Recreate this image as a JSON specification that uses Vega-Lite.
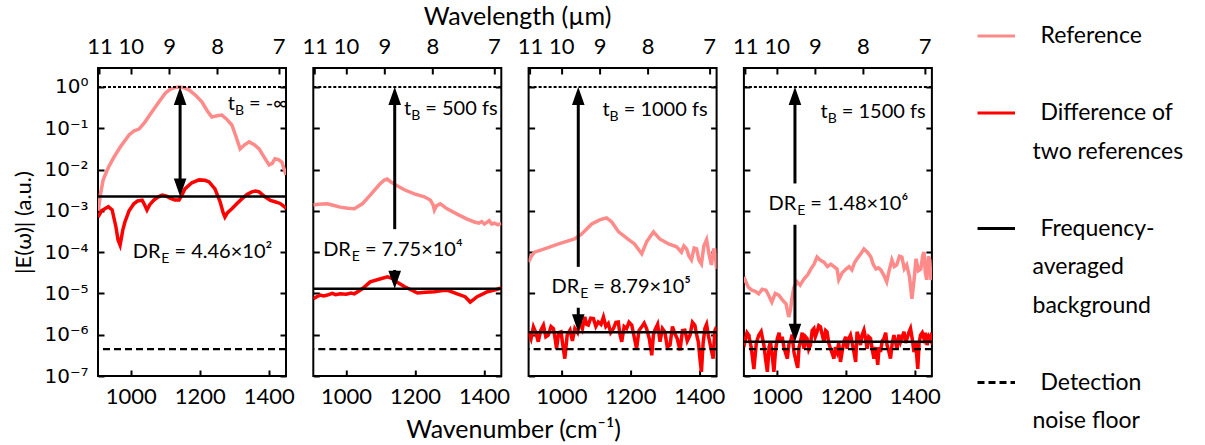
{
"$schema": "https://vega.github.io/schema/vega-lite/v6.json",
"padding": {"left": 11, "top": 5, "right": 5, "bottom": 5},
"datasets": {
"p1": [
{"s":"ref","wn":906,"E":1.0e-3},{"s":"ref","wn":912,"E":2.51e-3},{"s":"ref","wn":920,"E":5.62e-3},{"s":"ref","wn":935,"E":1.12e-2},{"s":"ref","wn":950,"E":1.91e-2},{"s":"ref","wn":970,"E":3.55e-2},{"s":"ref","wn":995,"E":6.92e-2},{"s":"ref","wn":1010,"E":8.71e-2},{"s":"ref","wn":1024,"E":9.55e-2},{"s":"ref","wn":1041,"E":0.141},{"s":"ref","wn":1060,"E":0.240},{"s":"ref","wn":1082,"E":0.437},{"s":"ref","wn":1100,"E":0.708},{"s":"ref","wn":1115,"E":0.891},{"s":"ref","wn":1130,"E":0.977},{"s":"ref","wn":1140,"E":1.0},{"s":"ref","wn":1155,"E":0.955},{"s":"ref","wn":1169,"E":0.851},{"s":"ref","wn":1190,"E":0.603},{"s":"ref","wn":1206,"E":0.437},{"s":"ref","wn":1222,"E":0.263},{"s":"ref","wn":1235,"E":0.186},{"s":"ref","wn":1250,"E":0.200},{"s":"ref","wn":1264,"E":0.209},{"s":"ref","wn":1278,"E":0.166},{"s":"ref","wn":1293,"E":0.120},{"s":"ref","wn":1305,"E":0.0631},{"s":"ref","wn":1317,"E":0.0316},{"s":"ref","wn":1330,"E":0.0398},{"s":"ref","wn":1343,"E":0.0468},{"s":"ref","wn":1358,"E":0.0398},{"s":"ref","wn":1372,"E":0.0316},{"s":"ref","wn":1388,"E":0.0191},{"s":"ref","wn":1401,"E":0.0129},{"s":"ref","wn":1410,"E":0.0141},{"s":"ref","wn":1418,"E":0.0182},{"s":"ref","wn":1428,"E":0.0174},{"s":"ref","wn":1438,"E":0.0151},{"s":"ref","wn":1450,"E":0.00741},
{"s":"diff","wn":905,"E":7.08e-4},{"s":"diff","wn":915,"E":1.0e-3},{"s":"diff","wn":925,"E":1.12e-3},{"s":"diff","wn":935,"E":1.26e-3},{"s":"diff","wn":946,"E":1.05e-3},{"s":"diff","wn":957,"E":4.07e-4},{"s":"diff","wn":963,"E":2.0e-4},{"s":"diff","wn":969,"E":1.48e-4},{"s":"diff","wn":973,"E":2.24e-4},{"s":"diff","wn":977,"E":3.47e-4},{"s":"diff","wn":983,"E":5.37e-4},{"s":"diff","wn":995,"E":1.0e-3},{"s":"diff","wn":1009,"E":1.48e-3},{"s":"diff","wn":1020,"E":1.74e-3},{"s":"diff","wn":1033,"E":1.82e-3},{"s":"diff","wn":1040,"E":1.41e-3},{"s":"diff","wn":1047,"E":1.05e-3},{"s":"diff","wn":1055,"E":1.41e-3},{"s":"diff","wn":1067,"E":1.82e-3},{"s":"diff","wn":1080,"E":2.19e-3},{"s":"diff","wn":1091,"E":2.40e-3},{"s":"diff","wn":1102,"E":2.29e-3},{"s":"diff","wn":1114,"E":2.04e-3},{"s":"diff","wn":1128,"E":1.82e-3},{"s":"diff","wn":1140,"E":1.82e-3},{"s":"diff","wn":1148,"E":2.40e-3},{"s":"diff","wn":1157,"E":3.39e-3},{"s":"diff","wn":1177,"E":4.79e-3},{"s":"diff","wn":1198,"E":5.62e-3},{"s":"diff","wn":1215,"E":5.50e-3},{"s":"diff","wn":1227,"E":5.01e-3},{"s":"diff","wn":1244,"E":3.39e-3},{"s":"diff","wn":1259,"E":1.66e-3},{"s":"diff","wn":1268,"E":8.91e-4},{"s":"diff","wn":1273,"E":7.08e-4},{"s":"diff","wn":1280,"E":8.91e-4},{"s":"diff","wn":1293,"E":1.12e-3},{"s":"diff","wn":1308,"E":1.51e-3},{"s":"diff","wn":1322,"E":1.95e-3},{"s":"diff","wn":1337,"E":2.51e-3},{"s":"diff","wn":1351,"E":2.88e-3},{"s":"diff","wn":1362,"E":3.02e-3},{"s":"diff","wn":1372,"E":2.88e-3},{"s":"diff","wn":1389,"E":2.19e-3},{"s":"diff","wn":1405,"E":1.78e-3},{"s":"diff","wn":1418,"E":1.66e-3},{"s":"diff","wn":1433,"E":1.51e-3},{"s":"diff","wn":1447,"E":1.23e-3},{"s":"diff","wn":1450,"E":1.12e-3}
],
"p2": [
{"s":"ref","wn":905,"E":1.38e-3},{"s":"ref","wn":920,"E":1.45e-3},{"s":"ref","wn":946,"E":1.48e-3},{"s":"ref","wn":965,"E":1.35e-3},{"s":"ref","wn":983,"E":1.23e-3},{"s":"ref","wn":1005,"E":1.15e-3},{"s":"ref","wn":1024,"E":1.12e-3},{"s":"ref","wn":1047,"E":1.48e-3},{"s":"ref","wn":1070,"E":2.40e-3},{"s":"ref","wn":1096,"E":4.27e-3},{"s":"ref","wn":1110,"E":5.50e-3},{"s":"ref","wn":1119,"E":5.89e-3},{"s":"ref","wn":1130,"E":5.01e-3},{"s":"ref","wn":1143,"E":4.27e-3},{"s":"ref","wn":1169,"E":3.24e-3},{"s":"ref","wn":1198,"E":2.57e-3},{"s":"ref","wn":1227,"E":2.19e-3},{"s":"ref","wn":1244,"E":1.82e-3},{"s":"ref","wn":1252,"E":1.41e-3},{"s":"ref","wn":1256,"E":1.05e-3},{"s":"ref","wn":1262,"E":1.32e-3},{"s":"ref","wn":1273,"E":1.48e-3},{"s":"ref","wn":1293,"E":1.12e-3},{"s":"ref","wn":1322,"E":8.32e-4},{"s":"ref","wn":1351,"E":6.31e-4},{"s":"ref","wn":1372,"E":5.37e-4},{"s":"ref","wn":1385,"E":5.01e-4},{"s":"ref","wn":1393,"E":5.50e-4},{"s":"ref","wn":1401,"E":4.79e-4},{"s":"ref","wn":1408,"E":5.25e-4},{"s":"ref","wn":1415,"E":5.75e-4},{"s":"ref","wn":1422,"E":4.79e-4},{"s":"ref","wn":1430,"E":5.01e-4},{"s":"ref","wn":1440,"E":4.57e-4},{"s":"ref","wn":1450,"E":5.01e-4},
{"s":"diff","wn":905,"E":7.41e-6},{"s":"diff","wn":915,"E":8.32e-6},{"s":"diff","wn":925,"E":9.12e-6},{"s":"diff","wn":935,"E":8.71e-6},{"s":"diff","wn":946,"E":9.12e-6},{"s":"diff","wn":960,"E":1.0e-5},{"s":"diff","wn":970,"E":9.33e-6},{"s":"diff","wn":983,"E":9.77e-6},{"s":"diff","wn":1000,"E":9.55e-6},{"s":"diff","wn":1015,"E":1.02e-5},{"s":"diff","wn":1024,"E":9.77e-6},{"s":"diff","wn":1047,"E":1.29e-5},{"s":"diff","wn":1070,"E":1.91e-5},{"s":"diff","wn":1098,"E":2.24e-5},{"s":"diff","wn":1120,"E":2.51e-5},{"s":"diff","wn":1135,"E":2.29e-5},{"s":"diff","wn":1146,"E":1.91e-5},{"s":"diff","wn":1170,"E":1.45e-5},{"s":"diff","wn":1207,"E":1.02e-5},{"s":"diff","wn":1230,"E":1.07e-5},{"s":"diff","wn":1256,"E":1.10e-5},{"s":"diff","wn":1280,"E":1.17e-5},{"s":"diff","wn":1293,"E":1.20e-5},{"s":"diff","wn":1322,"E":9.77e-6},{"s":"diff","wn":1345,"E":8.32e-6},{"s":"diff","wn":1360,"E":6.17e-6},{"s":"diff","wn":1380,"E":8.32e-6},{"s":"diff","wn":1410,"E":1.10e-5},{"s":"diff","wn":1430,"E":1.20e-5},{"s":"diff","wn":1450,"E":1.35e-5}
],
"p3": [
{"s":"ref","wn":905,"E":5.75e-5},{"s":"ref","wn":913,"E":7.94e-5},{"s":"ref","wn":922,"E":1.0e-4},{"s":"ref","wn":951,"E":1.20e-4},{"s":"ref","wn":992,"E":1.58e-4},{"s":"ref","wn":1038,"E":2.09e-4},{"s":"ref","wn":1059,"E":2.75e-4},{"s":"ref","wn":1088,"E":4.79e-4},{"s":"ref","wn":1111,"E":6.03e-4},{"s":"ref","wn":1131,"E":6.76e-4},{"s":"ref","wn":1146,"E":5.37e-4},{"s":"ref","wn":1166,"E":3.09e-4},{"s":"ref","wn":1195,"E":2.0e-4},{"s":"ref","wn":1212,"E":1.58e-4},{"s":"ref","wn":1233,"E":9.12e-5},{"s":"ref","wn":1247,"E":1.78e-4},{"s":"ref","wn":1267,"E":3.09e-4},{"s":"ref","wn":1285,"E":2.09e-4},{"s":"ref","wn":1311,"E":1.58e-4},{"s":"ref","wn":1334,"E":1.35e-4},{"s":"ref","wn":1348,"E":1.0e-4},{"s":"ref","wn":1355,"E":1.41e-4},{"s":"ref","wn":1363,"E":1.20e-4},{"s":"ref","wn":1370,"E":7.94e-5},{"s":"ref","wn":1377,"E":6.46e-5},{"s":"ref","wn":1385,"E":1.26e-4},{"s":"ref","wn":1392,"E":1.20e-4},{"s":"ref","wn":1399,"E":6.31e-5},{"s":"ref","wn":1406,"E":5.13e-5},{"s":"ref","wn":1413,"E":1.41e-4},{"s":"ref","wn":1421,"E":2.0e-4},{"s":"ref","wn":1428,"E":8.91e-5},{"s":"ref","wn":1435,"E":4.90e-5},{"s":"ref","wn":1441,"E":1.12e-4},{"s":"ref","wn":1445,"E":1.12e-4},{"s":"ref","wn":1450,"E":3.89e-5},
{"s":"diff","wn":904,"E":1.17e-6},{"s":"diff","wn":912,"E":7.94e-7},{"s":"diff","wn":919,"E":1.55e-6},{"s":"diff","wn":926,"E":1.12e-6},{"s":"diff","wn":933,"E":6.76e-7},{"s":"diff","wn":940,"E":1.26e-6},{"s":"diff","wn":948,"E":1.70e-6},{"s":"diff","wn":955,"E":8.91e-7},{"s":"diff","wn":962,"E":9.77e-7},{"s":"diff","wn":970,"E":1.58e-6},{"s":"diff","wn":977,"E":1.41e-6},{"s":"diff","wn":982,"E":7.94e-7},{"s":"diff","wn":986,"E":4.57e-7},{"s":"diff","wn":992,"E":1.12e-6},{"s":"diff","wn":999,"E":1.17e-6},{"s":"diff","wn":1005,"E":5.01e-7},{"s":"diff","wn":1010,"E":2.63e-7},{"s":"diff","wn":1017,"E":1.0e-6},{"s":"diff","wn":1025,"E":1.29e-6},{"s":"diff","wn":1032,"E":7.08e-7},{"s":"diff","wn":1039,"E":1.41e-6},{"s":"diff","wn":1047,"E":1.12e-6},{"s":"diff","wn":1054,"E":2.04e-6},{"s":"diff","wn":1061,"E":1.41e-6},{"s":"diff","wn":1068,"E":2.69e-6},{"s":"diff","wn":1073,"E":1.78e-6},{"s":"diff","wn":1078,"E":1.70e-6},{"s":"diff","wn":1085,"E":2.51e-6},{"s":"diff","wn":1093,"E":2.45e-6},{"s":"diff","wn":1100,"E":1.58e-6},{"s":"diff","wn":1107,"E":2.04e-6},{"s":"diff","wn":1115,"E":1.78e-6},{"s":"diff","wn":1122,"E":2.69e-6},{"s":"diff","wn":1129,"E":1.58e-6},{"s":"diff","wn":1136,"E":1.86e-6},{"s":"diff","wn":1143,"E":1.12e-6},{"s":"diff","wn":1151,"E":1.41e-6},{"s":"diff","wn":1158,"E":2.0e-6},{"s":"diff","wn":1165,"E":2.04e-6},{"s":"diff","wn":1170,"E":1.0e-6},{"s":"diff","wn":1175,"E":6.76e-7},{"s":"diff","wn":1182,"E":1.58e-6},{"s":"diff","wn":1189,"E":1.41e-6},{"s":"diff","wn":1196,"E":2.0e-6},{"s":"diff","wn":1204,"E":1.70e-6},{"s":"diff","wn":1211,"E":8.91e-7},{"s":"diff","wn":1218,"E":4.57e-7},{"s":"diff","wn":1225,"E":1.26e-6},{"s":"diff","wn":1233,"E":1.55e-6},{"s":"diff","wn":1240,"E":1.91e-6},{"s":"diff","wn":1247,"E":1.41e-6},{"s":"diff","wn":1255,"E":7.94e-7},{"s":"diff","wn":1262,"E":3.16e-7},{"s":"diff","wn":1267,"E":1.0e-6},{"s":"diff","wn":1271,"E":1.29e-6},{"s":"diff","wn":1279,"E":1.78e-6},{"s":"diff","wn":1286,"E":6.76e-7},{"s":"diff","wn":1293,"E":1.41e-6},{"s":"diff","wn":1300,"E":1.17e-6},{"s":"diff","wn":1307,"E":5.01e-7},{"s":"diff","wn":1315,"E":5.62e-7},{"s":"diff","wn":1322,"E":1.58e-6},{"s":"diff","wn":1329,"E":1.07e-6},{"s":"diff","wn":1336,"E":7.94e-7},{"s":"diff","wn":1344,"E":4.17e-7},{"s":"diff","wn":1351,"E":1.26e-6},{"s":"diff","wn":1358,"E":1.29e-6},{"s":"diff","wn":1365,"E":7.08e-7},{"s":"diff","wn":1373,"E":9.77e-7},{"s":"diff","wn":1380,"E":2.0e-6},{"s":"diff","wn":1387,"E":1.70e-6},{"s":"diff","wn":1392,"E":1.0e-6},{"s":"diff","wn":1397,"E":6.76e-7},{"s":"diff","wn":1402,"E":2.51e-7},{"s":"diff","wn":1406,"E":1.26e-7},{"s":"diff","wn":1411,"E":6.31e-7},{"s":"diff","wn":1416,"E":1.41e-6},{"s":"diff","wn":1421,"E":1.78e-6},{"s":"diff","wn":1426,"E":9.77e-7},{"s":"diff","wn":1433,"E":5.01e-7},{"s":"diff","wn":1440,"E":2.63e-7},{"s":"diff","wn":1445,"E":1.26e-6},{"s":"diff","wn":1450,"E":1.55e-6}
],
"p4": [
{"s":"ref","wn":905,"E":2.51e-5},{"s":"ref","wn":908,"E":2.14e-5},{"s":"ref","wn":918,"E":1.41e-5},{"s":"ref","wn":928,"E":1.20e-5},{"s":"ref","wn":938,"E":1.12e-5},{"s":"ref","wn":948,"E":9.77e-6},{"s":"ref","wn":958,"E":1.26e-5},{"s":"ref","wn":969,"E":1.20e-5},{"s":"ref","wn":977,"E":8.91e-6},{"s":"ref","wn":986,"E":6.17e-6},{"s":"ref","wn":996,"E":1.0e-5},{"s":"ref","wn":1006,"E":9.12e-6},{"s":"ref","wn":1016,"E":7.08e-6},{"s":"ref","wn":1027,"E":5.62e-6},{"s":"ref","wn":1032,"E":3.55e-6},{"s":"ref","wn":1035,"E":2.69e-6},{"s":"ref","wn":1040,"E":3.98e-6},{"s":"ref","wn":1044,"E":7.41e-6},{"s":"ref","wn":1050,"E":1.41e-5},{"s":"ref","wn":1059,"E":1.91e-5},{"s":"ref","wn":1068,"E":1.58e-5},{"s":"ref","wn":1079,"E":2.24e-5},{"s":"ref","wn":1090,"E":2.82e-5},{"s":"ref","wn":1099,"E":3.89e-5},{"s":"ref","wn":1108,"E":5.01e-5},{"s":"ref","wn":1117,"E":7.59e-5},{"s":"ref","wn":1127,"E":6.31e-5},{"s":"ref","wn":1137,"E":5.75e-5},{"s":"ref","wn":1147,"E":4.47e-5},{"s":"ref","wn":1157,"E":5.13e-5},{"s":"ref","wn":1166,"E":4.47e-5},{"s":"ref","wn":1175,"E":3.89e-5},{"s":"ref","wn":1180,"E":2.14e-5},{"s":"ref","wn":1190,"E":3.16e-5},{"s":"ref","wn":1201,"E":3.89e-5},{"s":"ref","wn":1210,"E":4.47e-5},{"s":"ref","wn":1218,"E":3.72e-5},{"s":"ref","wn":1226,"E":5.62e-5},{"s":"ref","wn":1233,"E":6.92e-5},{"s":"ref","wn":1243,"E":8.91e-5},{"s":"ref","wn":1253,"E":1.20e-4},{"s":"ref","wn":1263,"E":1.0e-4},{"s":"ref","wn":1273,"E":7.59e-5},{"s":"ref","wn":1280,"E":5.01e-5},{"s":"ref","wn":1288,"E":3.89e-5},{"s":"ref","wn":1295,"E":4.17e-5},{"s":"ref","wn":1302,"E":3.72e-5},{"s":"ref","wn":1310,"E":2.82e-5},{"s":"ref","wn":1319,"E":1.91e-5},{"s":"ref","wn":1326,"E":3.55e-5},{"s":"ref","wn":1334,"E":6.46e-5},{"s":"ref","wn":1341,"E":4.47e-5},{"s":"ref","wn":1348,"E":4.90e-5},{"s":"ref","wn":1356,"E":7.94e-5},{"s":"ref","wn":1363,"E":7.59e-5},{"s":"ref","wn":1370,"E":3.98e-5},{"s":"ref","wn":1377,"E":4.90e-5},{"s":"ref","wn":1385,"E":2.51e-5},{"s":"ref","wn":1392,"E":7.41e-6},{"s":"ref","wn":1398,"E":2.0e-5},{"s":"ref","wn":1404,"E":6.92e-5},{"s":"ref","wn":1411,"E":3.55e-5},{"s":"ref","wn":1418,"E":3.89e-5},{"s":"ref","wn":1423,"E":7.94e-5},{"s":"ref","wn":1427,"E":1.0e-4},{"s":"ref","wn":1431,"E":3.16e-5},{"s":"ref","wn":1435,"E":2.14e-5},{"s":"ref","wn":1440,"E":7.94e-5},{"s":"ref","wn":1444,"E":6.31e-5},{"s":"ref","wn":1447,"E":2.14e-5},{"s":"ref","wn":1450,"E":2.51e-5},
{"s":"diff","wn":905,"E":7.94e-7},{"s":"diff","wn":908,"E":6.76e-7},{"s":"diff","wn":914,"E":1.12e-6},{"s":"diff","wn":919,"E":9.77e-7},{"s":"diff","wn":926,"E":5.01e-7},{"s":"diff","wn":934,"E":1.48e-7},{"s":"diff","wn":941,"E":6.31e-7},{"s":"diff","wn":948,"E":9.77e-7},{"s":"diff","wn":955,"E":1.20e-6},{"s":"diff","wn":963,"E":5.62e-7},{"s":"diff","wn":968,"E":2.51e-7},{"s":"diff","wn":973,"E":1.26e-7},{"s":"diff","wn":978,"E":5.01e-7},{"s":"diff","wn":982,"E":6.76e-7},{"s":"diff","wn":987,"E":3.16e-7},{"s":"diff","wn":992,"E":1.26e-7},{"s":"diff","wn":997,"E":4.47e-7},{"s":"diff","wn":1002,"E":8.13e-7},{"s":"diff","wn":1007,"E":1.12e-6},{"s":"diff","wn":1011,"E":6.76e-7},{"s":"diff","wn":1016,"E":8.91e-7},{"s":"diff","wn":1021,"E":5.01e-7},{"s":"diff","wn":1026,"E":3.55e-7},{"s":"diff","wn":1031,"E":2.63e-7},{"s":"diff","wn":1036,"E":6.31e-7},{"s":"diff","wn":1040,"E":6.76e-7},{"s":"diff","wn":1045,"E":1.0e-6},{"s":"diff","wn":1050,"E":3.80e-7},{"s":"diff","wn":1055,"E":2.51e-7},{"s":"diff","wn":1061,"E":1.58e-7},{"s":"diff","wn":1065,"E":5.01e-7},{"s":"diff","wn":1069,"E":6.76e-7},{"s":"diff","wn":1074,"E":1.12e-6},{"s":"diff","wn":1079,"E":4.57e-7},{"s":"diff","wn":1084,"E":8.91e-7},{"s":"diff","wn":1088,"E":8.13e-7},{"s":"diff","wn":1093,"E":4.47e-7},{"s":"diff","wn":1098,"E":5.62e-7},{"s":"diff","wn":1103,"E":1.26e-6},{"s":"diff","wn":1108,"E":1.41e-6},{"s":"diff","wn":1112,"E":8.91e-7},{"s":"diff","wn":1117,"E":1.17e-6},{"s":"diff","wn":1122,"E":1.66e-6},{"s":"diff","wn":1127,"E":1.55e-6},{"s":"diff","wn":1132,"E":1.0e-6},{"s":"diff","wn":1137,"E":6.76e-7},{"s":"diff","wn":1142,"E":1.26e-6},{"s":"diff","wn":1146,"E":1.17e-6},{"s":"diff","wn":1151,"E":6.31e-7},{"s":"diff","wn":1156,"E":4.57e-7},{"s":"diff","wn":1161,"E":3.55e-7},{"s":"diff","wn":1166,"E":2.63e-7},{"s":"diff","wn":1170,"E":5.01e-7},{"s":"diff","wn":1175,"E":3.80e-7},{"s":"diff","wn":1180,"E":6.31e-7},{"s":"diff","wn":1185,"E":2.19e-7},{"s":"diff","wn":1190,"E":3.98e-7},{"s":"diff","wn":1195,"E":6.76e-7},{"s":"diff","wn":1200,"E":8.91e-7},{"s":"diff","wn":1204,"E":4.57e-7},{"s":"diff","wn":1209,"E":7.94e-7},{"s":"diff","wn":1214,"E":9.77e-7},{"s":"diff","wn":1219,"E":6.31e-7},{"s":"diff","wn":1224,"E":3.80e-7},{"s":"diff","wn":1229,"E":2.19e-7},{"s":"diff","wn":1233,"E":1.17e-6},{"s":"diff","wn":1238,"E":8.91e-7},{"s":"diff","wn":1243,"E":5.62e-7},{"s":"diff","wn":1248,"E":1.0e-6},{"s":"diff","wn":1253,"E":1.29e-6},{"s":"diff","wn":1258,"E":7.94e-7},{"s":"diff","wn":1262,"E":4.57e-7},{"s":"diff","wn":1267,"E":8.91e-7},{"s":"diff","wn":1272,"E":8.13e-7},{"s":"diff","wn":1277,"E":4.47e-7},{"s":"diff","wn":1282,"E":2.63e-7},{"s":"diff","wn":1287,"E":5.01e-7},{"s":"diff","wn":1293,"E":1.86e-7},{"s":"diff","wn":1297,"E":5.01e-7},{"s":"diff","wn":1301,"E":3.80e-7},{"s":"diff","wn":1306,"E":7.08e-7},{"s":"diff","wn":1311,"E":8.13e-7},{"s":"diff","wn":1316,"E":1.12e-6},{"s":"diff","wn":1320,"E":5.62e-7},{"s":"diff","wn":1325,"E":3.98e-7},{"s":"diff","wn":1330,"E":2.63e-7},{"s":"diff","wn":1335,"E":6.31e-7},{"s":"diff","wn":1340,"E":9.77e-7},{"s":"diff","wn":1345,"E":6.31e-7},{"s":"diff","wn":1349,"E":4.57e-7},{"s":"diff","wn":1354,"E":1.0e-6},{"s":"diff","wn":1359,"E":6.76e-7},{"s":"diff","wn":1364,"E":8.91e-7},{"s":"diff","wn":1369,"E":1.17e-6},{"s":"diff","wn":1374,"E":6.31e-7},{"s":"diff","wn":1378,"E":8.13e-7},{"s":"diff","wn":1383,"E":1.12e-6},{"s":"diff","wn":1388,"E":1.41e-6},{"s":"diff","wn":1393,"E":7.94e-7},{"s":"diff","wn":1398,"E":3.80e-7},{"s":"diff","wn":1403,"E":6.31e-7},{"s":"diff","wn":1409,"E":1.48e-7},{"s":"diff","wn":1413,"E":6.31e-7},{"s":"diff","wn":1417,"E":9.77e-7},{"s":"diff","wn":1422,"E":1.12e-6},{"s":"diff","wn":1427,"E":8.13e-7},{"s":"diff","wn":1431,"E":1.12e-6},{"s":"diff","wn":1436,"E":5.62e-7},{"s":"diff","wn":1441,"E":8.91e-7},{"s":"diff","wn":1446,"E":7.41e-7},{"s":"diff","wn":1450,"E":1.12e-6}
],
"info": [
{"p":1,"bg":2.24e-3,"floor":4.5e-7,"peak":1},
{"p":2,"bg":1.29e-5,"floor":4.5e-7,"peak":1},
{"p":3,"bg":1.14e-6,"floor":4.5e-7,"peak":1},
{"p":4,"bg":6.76e-7,"floor":4.5e-7,"peak":1}
],
"shafts": [
{"p":1,"wn":1143,"y1":0.5,"y2":4.5e-3},
{"p":2,"wn":1141,"y1":0.5,"y2":3.6e-4},{"p":2,"wn":1141,"y1":3.7e-5,"y2":2.6e-5},
{"p":3,"wn":1049,"y1":0.5,"y2":4.4e-5},{"p":3,"wn":1049,"y1":4.5e-6,"y2":2.3e-6},
{"p":4,"wn":1053,"y1":0.5,"y2":4.6e-3},{"p":4,"wn":1053,"y1":4.6e-4,"y2":1.35e-6}
],
"heads": [
{"p":1,"wn":1143,"E":1,"dir":"up"},{"p":1,"wn":1143,"E":2.24e-3,"dir":"down"},
{"p":2,"wn":1141,"E":1,"dir":"up"},{"p":2,"wn":1141,"E":1.29e-5,"dir":"down"},
{"p":3,"wn":1049,"E":1,"dir":"up"},{"p":3,"wn":1049,"E":1.14e-6,"dir":"down"},
{"p":4,"wn":1053,"E":1,"dir":"up"},{"p":4,"wn":1053,"E":6.76e-7,"dir":"down"}
],
"notes": [
{"p":1,"main":"t","sub":"B","rest":"= -∞","wn":1331,"E":0.39},
{"p":1,"main":"DR","sub":"E","rest":"= 4.46×10²","wn":1115,"E":1.0e-4},
{"p":2,"main":"t","sub":"B","rest":"= 500 fs","wn":1218,"E":0.295},
{"p":2,"main":"DR","sub":"E","rest":"= 7.75×10⁴","wn":1043,"E":1.12e-4},
{"p":3,"main":"t","sub":"B","rest":"= 1000 fs","wn":1169,"E":0.275},
{"p":3,"main":"DR","sub":"E","rest":"= 8.79×10⁵","wn":1081,"E":1.45e-5},
{"p":4,"main":"t","sub":"B","rest":"= 1500 fs","wn":1177,"E":0.245},
{"p":4,"main":"DR","sub":"E","rest":"= 1.48×10⁶","wn":1086,"E":1.48e-3}
],
"legLines": [
{"item":"Reference","pos":0},{"item":"Difference of two references","pos":2},{"item":"Frequency-averaged background","pos":5},{"item":"Detection noise floor","pos":9}
],
"legText": [
{"t":"Reference","pos":0,"first":true},{"t":"Difference of","pos":2,"first":true},{"t":"two references","pos":3,"first":false},{"t":"Frequency-","pos":5,"first":true},{"t":"averaged","pos":6,"first":false},{"t":"background","pos":7,"first":false},{"t":"Detection","pos":9,"first":true},{"t":"noise floor","pos":10,"first":false}
]
},
"hconcat": [
{
"title": {"text": "Wavelength (µm)", "anchor": "middle", "fontSize": 25, "fontWeight": "normal", "offset": 4, "dx": 41},
"vconcat": [
{
"title": {"text": "Wavenumber (cm⁻¹)", "orient": "bottom", "anchor": "middle", "fontSize": 25, "fontWeight": "normal", "offset": 10, "dx": 37},
"spacing": 27.3,
"bounds": "flush",
"hconcat": [
{
"width": 188, "height": 308,
"resolve": {"axis": {"x": "independent", "y": "independent"}},
"layer": [
{"data": {"name": "p1"}, "mark": {"type": "line", "strokeWidth": 3.5, "clip": true},
 "encoding": {
  "x": {"field": "wn", "type": "quantitative", "scale": {"domain": [905, 1450], "nice": false, "zero": false}, "axis": {"orient": "bottom", "values": [1000, 1200, 1400], "format": "d", "title": null}},
  "y": {"field": "E", "type": "quantitative", "scale": {"type": "log", "domain": [1e-7, 2.88], "nice": false}, "axis": {"orient": "left", "values": [1e-7, 1e-6, 1e-5, 1e-4, 1e-3, 1e-2, 1e-1, 1], "labelExpr": "['10⁰','10⁻¹','10⁻²','10⁻³','10⁻⁴','10⁻⁵','10⁻⁶','10⁻⁷'][round(-log(datum.value)/LN10)]", "labelFont": "DejaVu Sans", "labelFontSize": 20, "title": "|E(ω)| (a.u.)", "titlePadding": 8}},
  "color": {"field": "s", "type": "nominal", "scale": {"domain": ["ref", "diff"], "range": ["#ff8a8a", "#ff0000"]}, "legend": null}}},
{"data": {"name": "info"}, "transform": [{"filter": "datum.p == 1"}], "mark": {"type": "rule", "strokeWidth": 2.5, "color": "black"},
 "encoding": {"y": {"field": "bg", "type": "quantitative", "axis": null}}},
{"data": {"name": "info"}, "transform": [{"filter": "datum.p == 1"}], "mark": {"type": "rule", "strokeWidth": 2.2, "color": "black", "strokeDash": [7, 4]},
 "encoding": {"y": {"field": "floor", "type": "quantitative", "axis": null}}},
{"data": {"name": "info"}, "transform": [{"filter": "datum.p == 1"}], "mark": {"type": "rule", "strokeWidth": 2, "color": "black", "strokeDash": [3, 2]},
 "encoding": {"y": {"field": "peak", "type": "quantitative", "axis": null}}},
{"data": {"name": "shafts"}, "transform": [{"filter": "datum.p == 1"}], "mark": {"type": "rule", "strokeWidth": 3, "color": "black"},
 "encoding": {
  "x": {"field": "wn", "type": "quantitative", "axis": {"orient": "top", "values": [909.09, 1000, 1111.11, 1250, 1428.57], "labelExpr": "format(10000/datum.value, '.0f')", "title": null}},
  "y": {"field": "y1", "type": "quantitative", "axis": null}, "y2": {"field": "y2"}}},
{"data": {"name": "heads"}, "transform": [{"filter": "datum.p == 1"}], "mark": {"type": "point", "filled": true, "size": 1296, "color": "black", "opacity": 1},
 "encoding": {
  "x": {"field": "wn", "type": "quantitative", "axis": null},
  "y": {"field": "E", "type": "quantitative", "axis": {"orient": "right", "values": [1e-7, 1e-6, 1e-5, 1e-4, 1e-3, 1e-2, 1e-1, 1], "labels": false, "title": null}},
  "shape": {"field": "dir", "type": "nominal", "scale": {"domain": ["up", "down"], "range": ["M0,0L-0.35,1L0.35,1Z", "M0,0L-0.35,-1L0.35,-1Z"]}, "legend": null}}},
{"data": {"name": "notes"}, "transform": [{"filter": "datum.p == 1"}], "mark": {"type": "text", "align": "right", "baseline": "middle", "fontSize": 20, "dx": -10},
 "encoding": {"x": {"field": "wn", "type": "quantitative", "axis": null}, "y": {"field": "E", "type": "quantitative", "axis": null}, "text": {"field": "main"}}},
{"data": {"name": "notes"}, "transform": [{"filter": "datum.p == 1"}], "mark": {"type": "text", "align": "right", "baseline": "middle", "fontSize": 14, "dx": -1, "dy": 7},
 "encoding": {"x": {"field": "wn", "type": "quantitative", "axis": null}, "y": {"field": "E", "type": "quantitative", "axis": null}, "text": {"field": "sub"}}},
{"data": {"name": "notes"}, "transform": [{"filter": "datum.p == 1"}], "mark": {"type": "text", "align": "left", "baseline": "middle", "fontSize": 20, "dx": 4},
 "encoding": {"x": {"field": "wn", "type": "quantitative", "axis": null}, "y": {"field": "E", "type": "quantitative", "axis": null}, "text": {"field": "rest"}}}
]
},
{
"width": 188, "height": 308,
"resolve": {"axis": {"x": "independent", "y": "independent"}},
"layer": [
{"data": {"name": "p2"}, "mark": {"type": "line", "strokeWidth": 3.5, "clip": true},
 "encoding": {
  "x": {"field": "wn", "type": "quantitative", "scale": {"domain": [905, 1450], "nice": false, "zero": false}, "axis": {"orient": "bottom", "values": [1000, 1200, 1400], "format": "d", "title": null}},
  "y": {"field": "E", "type": "quantitative", "scale": {"type": "log", "domain": [1e-7, 2.88], "nice": false}, "axis": {"orient": "left", "values": [1e-7, 1e-6, 1e-5, 1e-4, 1e-3, 1e-2, 1e-1, 1], "labels": false, "title": null}},
  "color": {"field": "s", "type": "nominal", "scale": {"domain": ["ref", "diff"], "range": ["#ff8a8a", "#ff0000"]}, "legend": null}}},
{"data": {"name": "info"}, "transform": [{"filter": "datum.p == 2"}], "mark": {"type": "rule", "strokeWidth": 2.5, "color": "black"},
 "encoding": {"y": {"field": "bg", "type": "quantitative", "axis": null}}},
{"data": {"name": "info"}, "transform": [{"filter": "datum.p == 2"}], "mark": {"type": "rule", "strokeWidth": 2.2, "color": "black", "strokeDash": [7, 4]},
 "encoding": {"y": {"field": "floor", "type": "quantitative", "axis": null}}},
{"data": {"name": "info"}, "transform": [{"filter": "datum.p == 2"}], "mark": {"type": "rule", "strokeWidth": 2, "color": "black", "strokeDash": [3, 2]},
 "encoding": {"y": {"field": "peak", "type": "quantitative", "axis": null}}},
{"data": {"name": "shafts"}, "transform": [{"filter": "datum.p == 2"}], "mark": {"type": "rule", "strokeWidth": 3, "color": "black"},
 "encoding": {
  "x": {"field": "wn", "type": "quantitative", "axis": {"orient": "top", "values": [909.09, 1000, 1111.11, 1250, 1428.57], "labelExpr": "format(10000/datum.value, '.0f')", "title": null}},
  "y": {"field": "y1", "type": "quantitative", "axis": null}, "y2": {"field": "y2"}}},
{"data": {"name": "heads"}, "transform": [{"filter": "datum.p == 2"}], "mark": {"type": "point", "filled": true, "size": 1296, "color": "black", "opacity": 1},
 "encoding": {
  "x": {"field": "wn", "type": "quantitative", "axis": null},
  "y": {"field": "E", "type": "quantitative", "axis": {"orient": "right", "values": [1e-7, 1e-6, 1e-5, 1e-4, 1e-3, 1e-2, 1e-1, 1], "labels": false, "title": null}},
  "shape": {"field": "dir", "type": "nominal", "scale": {"domain": ["up", "down"], "range": ["M0,0L-0.35,1L0.35,1Z", "M0,0L-0.35,-1L0.35,-1Z"]}, "legend": null}}},
{"data": {"name": "notes"}, "transform": [{"filter": "datum.p == 2"}], "mark": {"type": "text", "align": "right", "baseline": "middle", "fontSize": 20, "dx": -10},
 "encoding": {"x": {"field": "wn", "type": "quantitative", "axis": null}, "y": {"field": "E", "type": "quantitative", "axis": null}, "text": {"field": "main"}}},
{"data": {"name": "notes"}, "transform": [{"filter": "datum.p == 2"}], "mark": {"type": "text", "align": "right", "baseline": "middle", "fontSize": 14, "dx": -1, "dy": 7},
 "encoding": {"x": {"field": "wn", "type": "quantitative", "axis": null}, "y": {"field": "E", "type": "quantitative", "axis": null}, "text": {"field": "sub"}}},
{"data": {"name": "notes"}, "transform": [{"filter": "datum.p == 2"}], "mark": {"type": "text", "align": "left", "baseline": "middle", "fontSize": 20, "dx": 4},
 "encoding": {"x": {"field": "wn", "type": "quantitative", "axis": null}, "y": {"field": "E", "type": "quantitative", "axis": null}, "text": {"field": "rest"}}}
]
},
{
"width": 188, "height": 308,
"resolve": {"axis": {"x": "independent", "y": "independent"}},
"layer": [
{"data": {"name": "p3"}, "mark": {"type": "line", "strokeWidth": 3.5, "clip": true},
 "encoding": {
  "x": {"field": "wn", "type": "quantitative", "scale": {"domain": [905, 1450], "nice": false, "zero": false}, "axis": {"orient": "bottom", "values": [1000, 1200, 1400], "format": "d", "title": null}},
  "y": {"field": "E", "type": "quantitative", "scale": {"type": "log", "domain": [1e-7, 2.88], "nice": false}, "axis": {"orient": "left", "values": [1e-7, 1e-6, 1e-5, 1e-4, 1e-3, 1e-2, 1e-1, 1], "labels": false, "title": null}},
  "color": {"field": "s", "type": "nominal", "scale": {"domain": ["ref", "diff"], "range": ["#ff8a8a", "#ff0000"]}, "legend": null}}},
{"data": {"name": "info"}, "transform": [{"filter": "datum.p == 3"}], "mark": {"type": "rule", "strokeWidth": 2.5, "color": "black"},
 "encoding": {"y": {"field": "bg", "type": "quantitative", "axis": null}}},
{"data": {"name": "info"}, "transform": [{"filter": "datum.p == 3"}], "mark": {"type": "rule", "strokeWidth": 2.2, "color": "black", "strokeDash": [7, 4]},
 "encoding": {"y": {"field": "floor", "type": "quantitative", "axis": null}}},
{"data": {"name": "info"}, "transform": [{"filter": "datum.p == 3"}], "mark": {"type": "rule", "strokeWidth": 2, "color": "black", "strokeDash": [3, 2]},
 "encoding": {"y": {"field": "peak", "type": "quantitative", "axis": null}}},
{"data": {"name": "shafts"}, "transform": [{"filter": "datum.p == 3"}], "mark": {"type": "rule", "strokeWidth": 3, "color": "black"},
 "encoding": {
  "x": {"field": "wn", "type": "quantitative", "axis": {"orient": "top", "values": [909.09, 1000, 1111.11, 1250, 1428.57], "labelExpr": "format(10000/datum.value, '.0f')", "title": null}},
  "y": {"field": "y1", "type": "quantitative", "axis": null}, "y2": {"field": "y2"}}},
{"data": {"name": "heads"}, "transform": [{"filter": "datum.p == 3"}], "mark": {"type": "point", "filled": true, "size": 1296, "color": "black", "opacity": 1},
 "encoding": {
  "x": {"field": "wn", "type": "quantitative", "axis": null},
  "y": {"field": "E", "type": "quantitative", "axis": {"orient": "right", "values": [1e-7, 1e-6, 1e-5, 1e-4, 1e-3, 1e-2, 1e-1, 1], "labels": false, "title": null}},
  "shape": {"field": "dir", "type": "nominal", "scale": {"domain": ["up", "down"], "range": ["M0,0L-0.35,1L0.35,1Z", "M0,0L-0.35,-1L0.35,-1Z"]}, "legend": null}}},
{"data": {"name": "notes"}, "transform": [{"filter": "datum.p == 3"}], "mark": {"type": "text", "align": "right", "baseline": "middle", "fontSize": 20, "dx": -10},
 "encoding": {"x": {"field": "wn", "type": "quantitative", "axis": null}, "y": {"field": "E", "type": "quantitative", "axis": null}, "text": {"field": "main"}}},
{"data": {"name": "notes"}, "transform": [{"filter": "datum.p == 3"}], "mark": {"type": "text", "align": "right", "baseline": "middle", "fontSize": 14, "dx": -1, "dy": 7},
 "encoding": {"x": {"field": "wn", "type": "quantitative", "axis": null}, "y": {"field": "E", "type": "quantitative", "axis": null}, "text": {"field": "sub"}}},
{"data": {"name": "notes"}, "transform": [{"filter": "datum.p == 3"}], "mark": {"type": "text", "align": "left", "baseline": "middle", "fontSize": 20, "dx": 4},
 "encoding": {"x": {"field": "wn", "type": "quantitative", "axis": null}, "y": {"field": "E", "type": "quantitative", "axis": null}, "text": {"field": "rest"}}}
]
},
{
"width": 188, "height": 308,
"resolve": {"axis": {"x": "independent", "y": "independent"}},
"layer": [
{"data": {"name": "p4"}, "mark": {"type": "line", "strokeWidth": 3.5, "clip": true},
 "encoding": {
  "x": {"field": "wn", "type": "quantitative", "scale": {"domain": [905, 1450], "nice": false, "zero": false}, "axis": {"orient": "bottom", "values": [1000, 1200, 1400], "format": "d", "title": null}},
  "y": {"field": "E", "type": "quantitative", "scale": {"type": "log", "domain": [1e-7, 2.88], "nice": false}, "axis": {"orient": "left", "values": [1e-7, 1e-6, 1e-5, 1e-4, 1e-3, 1e-2, 1e-1, 1], "labels": false, "title": null}},
  "color": {"field": "s", "type": "nominal", "scale": {"domain": ["ref", "diff"], "range": ["#ff8a8a", "#ff0000"]}, "legend": null}}},
{"data": {"name": "info"}, "transform": [{"filter": "datum.p == 4"}], "mark": {"type": "rule", "strokeWidth": 2.5, "color": "black"},
 "encoding": {"y": {"field": "bg", "type": "quantitative", "axis": null}}},
{"data": {"name": "info"}, "transform": [{"filter": "datum.p == 4"}], "mark": {"type": "rule", "strokeWidth": 2.2, "color": "black", "strokeDash": [7, 4]},
 "encoding": {"y": {"field": "floor", "type": "quantitative", "axis": null}}},
{"data": {"name": "info"}, "transform": [{"filter": "datum.p == 4"}], "mark": {"type": "rule", "strokeWidth": 2, "color": "black", "strokeDash": [3, 2]},
 "encoding": {"y": {"field": "peak", "type": "quantitative", "axis": null}}},
{"data": {"name": "shafts"}, "transform": [{"filter": "datum.p == 4"}], "mark": {"type": "rule", "strokeWidth": 3, "color": "black"},
 "encoding": {
  "x": {"field": "wn", "type": "quantitative", "axis": {"orient": "top", "values": [909.09, 1000, 1111.11, 1250, 1428.57], "labelExpr": "format(10000/datum.value, '.0f')", "title": null}},
  "y": {"field": "y1", "type": "quantitative", "axis": null}, "y2": {"field": "y2"}}},
{"data": {"name": "heads"}, "transform": [{"filter": "datum.p == 4"}], "mark": {"type": "point", "filled": true, "size": 1296, "color": "black", "opacity": 1},
 "encoding": {
  "x": {"field": "wn", "type": "quantitative", "axis": null},
  "y": {"field": "E", "type": "quantitative", "axis": {"orient": "right", "values": [1e-7, 1e-6, 1e-5, 1e-4, 1e-3, 1e-2, 1e-1, 1], "labels": false, "title": null}},
  "shape": {"field": "dir", "type": "nominal", "scale": {"domain": ["up", "down"], "range": ["M0,0L-0.35,1L0.35,1Z", "M0,0L-0.35,-1L0.35,-1Z"]}, "legend": null}}},
{"data": {"name": "notes"}, "transform": [{"filter": "datum.p == 4"}], "mark": {"type": "text", "align": "right", "baseline": "middle", "fontSize": 20, "dx": -10},
 "encoding": {"x": {"field": "wn", "type": "quantitative", "axis": null}, "y": {"field": "E", "type": "quantitative", "axis": null}, "text": {"field": "main"}}},
{"data": {"name": "notes"}, "transform": [{"filter": "datum.p == 4"}], "mark": {"type": "text", "align": "right", "baseline": "middle", "fontSize": 14, "dx": -1, "dy": 7},
 "encoding": {"x": {"field": "wn", "type": "quantitative", "axis": null}, "y": {"field": "E", "type": "quantitative", "axis": null}, "text": {"field": "sub"}}},
{"data": {"name": "notes"}, "transform": [{"filter": "datum.p == 4"}], "mark": {"type": "text", "align": "left", "baseline": "middle", "fontSize": 20, "dx": 4},
 "encoding": {"x": {"field": "wn", "type": "quantitative", "axis": null}, "y": {"field": "E", "type": "quantitative", "axis": null}, "text": {"field": "rest"}}}
]
}
]
}
]
},
{
"width": 250, "height": 353,
"view": {"stroke": null},
"layer": [
{"data": {"name": "legLines"}, "mark": {"type": "rule", "strokeWidth": 3},
 "encoding": {
  "x": {"datum": 1.1, "type": "quantitative", "scale": {"domain": [0, 10], "nice": false, "zero": false}, "axis": null},
  "x2": {"datum": 2.6},
  "y": {"field": "pos", "type": "quantitative", "scale": {"domain": [0.829, 10], "reverse": true, "nice": false, "zero": false}, "axis": null},
  "stroke": {"field": "item", "type": "nominal", "scale": {"domain": ["Reference", "Difference of two references", "Frequency-averaged background", "Detection noise floor"], "range": ["#ff8a8a", "#ff0000", "black", "black"]}, "legend": null},
  "strokeDash": {"field": "item", "type": "nominal", "scale": {"domain": ["Reference", "Difference of two references", "Frequency-averaged background", "Detection noise floor"], "range": [[1, 0], [1, 0], [1, 0], [7, 4]]}, "legend": null}}},
{"data": {"name": "legText"}, "transform": [{"filter": "datum.first"}], "mark": {"type": "text", "align": "left", "baseline": "middle", "fontSize": 23, "dx": 8},
 "encoding": {
  "x": {"datum": 3.3, "type": "quantitative"},
  "y": {"field": "pos", "type": "quantitative"},
  "text": {"field": "t"}}},
{"data": {"name": "legText"}, "transform": [{"filter": "!datum.first"}], "mark": {"type": "text", "align": "left", "baseline": "middle", "fontSize": 23},
 "encoding": {
  "x": {"datum": 3.3, "type": "quantitative"},
  "y": {"field": "pos", "type": "quantitative"},
  "text": {"field": "t"}}}
]
}
],
"spacing": 8,
"config": {
"font": "Lato",
"view": {"stroke": "black", "strokeWidth": 2},
"axis": {"grid": false, "domain": false, "tickColor": "black", "tickWidth": 2, "tickSize": -6, "labelFont": "Lato", "labelFontSize": 22, "labelColor": "black", "labelPadding": 16, "labelFlush": false, "labelOverlap": false, "titleFont": "Lato", "titleFontSize": 22, "titleFontWeight": "normal", "titleColor": "black"},
"title": {"font": "Lato", "fontSize": 25, "fontWeight": "normal", "color": "black"},
"text": {"font": "Lato", "color": "black"}
}
}
